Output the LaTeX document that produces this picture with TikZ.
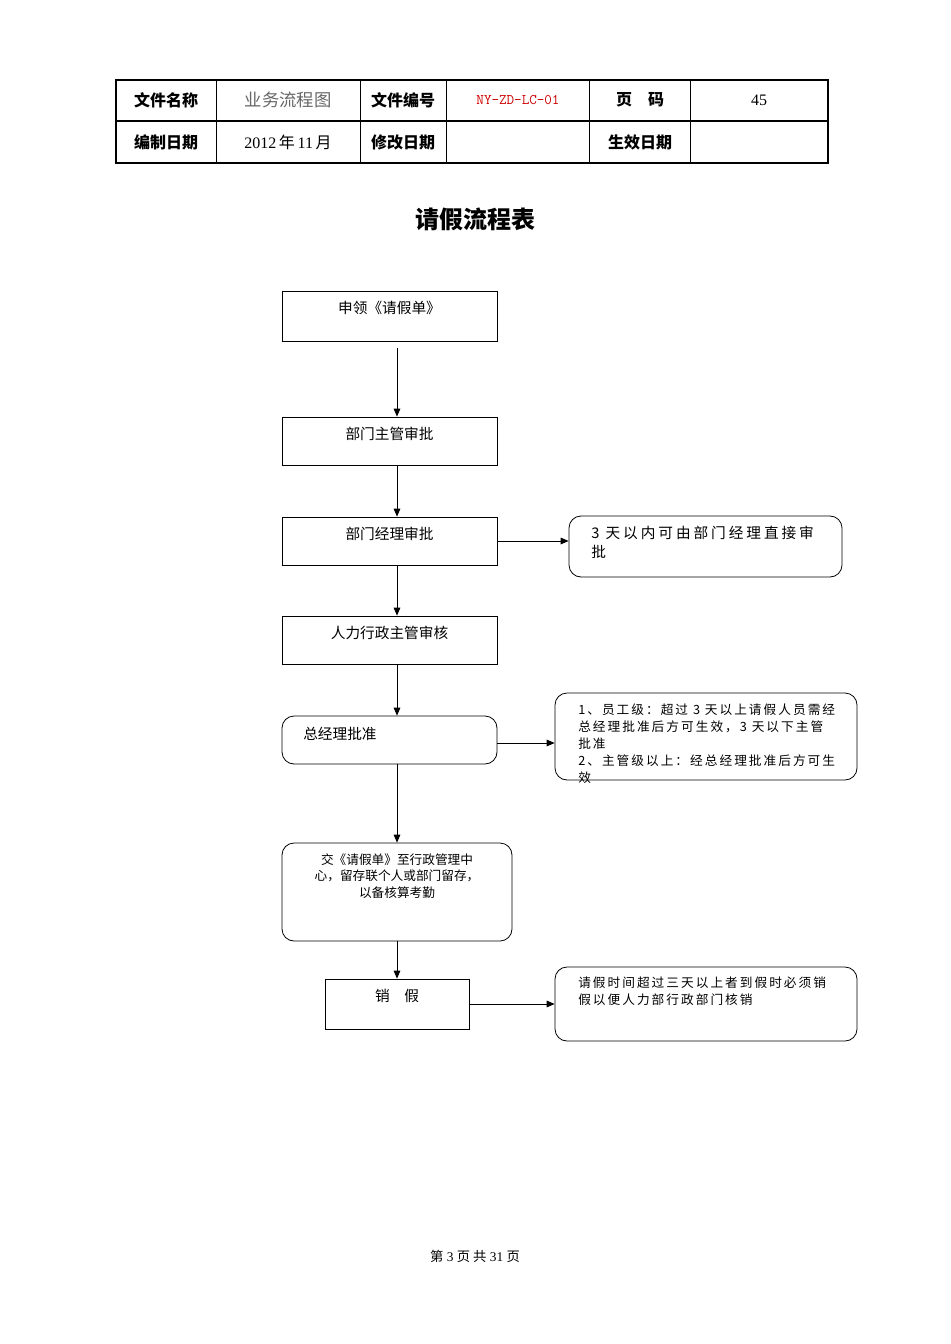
\documentclass[tikz,border=0pt]{standalone}
\usepackage{fontspec}
\setmainfont{Liberation Serif}
\newfontfamily\cjk{Noto Sans CJK SC}
\newfontfamily\cjkls[LetterSpace=16]{Noto Sans CJK SC}
\newfontfamily\cjklw[LetterSpace=20]{Noto Sans CJK SC}
\usetikzlibrary{arrows.meta,calc}
\begin{document}
\begin{tikzpicture}[x=0.75pt,y=-0.75pt,
  bx/.style={draw,semithick,inner sep=0pt},
  rbx/.style={draw,semithick,inner sep=0pt,rounded corners=9pt},
  txt/.style={font=\cjk\fontsize{11}{14}\selectfont,inner sep=0pt},
  ntxt/.style={font=\cjkls\fontsize{9.5}{12.7}\selectfont,inner sep=0pt,align=left,anchor=north west},
  th/.style={font=\cjk\bfseries\fontsize{12}{14}\selectfont,inner sep=0pt},
  arr/.style={-{Triangle[length=6pt,width=5pt]},semithick}]
\useasboundingbox (0,0) rectangle (950,1344);
% header table
\draw[line width=1.4pt] (116,80) rectangle (828,163);
\draw[thick] (116,121)--(828,121);
\foreach \x in {216,360,446,589,690} \draw (\x,80)--(\x,163);
\node[th] (h1) at (166,100) {文件名称};
\node[txt,text=gray!80!black,font=\cjk\fontsize{13}{14}\selectfont] (h2) at (288,100) {业务流程图};
\node[th] (h3) at (403,100) {文件编号};
\node[font=\ttfamily\fontsize{11}{12}\selectfont,text=red!80!black,inner sep=0pt] (h4) at (518,100) {NY-ZD-LC-01};
\node[th] (h5) at (640,100) {页\quad 码};
\node[font=\fontsize{12}{14}\selectfont,inner sep=0pt] (h6) at (759,100) {45};
\node[th] (h7) at (166,142) {编制日期};
\node[th] (h8) at (288,142) {\normalfont\fontsize{12}{14}\selectfont 2012\,\cjk 年\,\rmfamily 11\,\cjk 月};
\node[th] (h9) at (403,142) {修改日期};
\node[th] (h10) at (640,142) {生效日期};
\node[font=\cjk\bfseries\fontsize{18}{20}\selectfont] (title) at (475,219) {请假流程表};
% boxes
\node[bx,minimum width=161.25pt,minimum height=37.5pt] (b1) at (389.5,316) {};
\node[bx,minimum width=161.25pt,minimum height=36pt] (b2) at (389.5,441) {};
\node[bx,minimum width=161.25pt,minimum height=36pt] (b3) at (389.5,541) {};
\node[bx,minimum width=161.25pt,minimum height=36pt] (b4) at (389.5,640) {};
\node[rbx,minimum width=161.25pt,minimum height=36pt] (b5) at (389.5,740) {};
\node[rbx,minimum width=172.5pt,minimum height=73.5pt] (b6) at (397,892) {};
\node[bx,minimum width=108pt,minimum height=37.5pt] (b7) at (397,1004) {};
\node[rbx,minimum width=204.75pt,minimum height=45.75pt] (n1) at (705.5,546.5) {};
\node[rbx,minimum width=226.5pt,minimum height=65.25pt] (n2) at (706,736.5) {};
\node[rbx,minimum width=226.5pt,minimum height=55.5pt] (n3) at (706,1004) {};
% texts
\node[txt] (t1) at (389.5,308) {申领《请假单》};
\node[txt] (t2) at (389.5,434) {部门主管审批};
\node[txt] (t3) at (389.5,534) {部门经理审批};
\node[txt] (t4) at (389.5,633) {人力行政主管审核};
\node[txt,anchor=west] (t5) at (303,734) {总经理批准};
\node[txt,align=center,anchor=north,font=\cjk\fontsize{9.5}{12.5}\selectfont] (t6) at (397,853) {交《请假单》至行政管理中\\心，留存联个人或部门留存，\\以备核算考勤};
\node[txt] (t7) at (397,996) {销\quad 假};
\node[ntxt,font=\cjklw\fontsize{11}{14.2}\selectfont] (u1) at (591,526) {3 天以内可由部门经理直接审\\批};
\node[ntxt] (u2) at (578,704) {1、员工级：超过 3 天以上请假人员需经\\总经理批准后方可生效，3 天以下主管\\批准\\2、主管级以上：经总经理批准后方可生\\效};
\node[ntxt] (u3) at (578,977) {请假时间超过三天以上者到假时必须销\\假以便人力部行政部门核销};
% arrows
\coordinate (sp) at (397,0);
\draw[arr] ($(b1.south -| sp)+(0,7)$) -- (b2.north -| sp);
\draw[arr] (b2.south -| sp) -- (b3.north -| sp);
\draw[arr] (b3.south -| sp) -- (b4.north -| sp);
\draw[arr] (b4.south -| sp) -- (b5.north -| sp);
\draw[arr] (b5.south -| sp) -- (b6.north);
\draw[arr] (b6.south) -- (b7.north);
\draw[arr] (b3.east) -- (b3.east -| n1.west);
\draw[arr] ($(b5.east)+(0,3)$) -- ($(b5.east -| n2.west)+(0,3)$);
\draw[arr] (b7.east) -- (b7.east -| n3.west);
\node[font=\fontsize{10}{12}\selectfont,inner sep=0pt] (foot) at (475,1256) {{\cjk 第} 3 {\cjk 页 共} 31 {\cjk 页}};
\end{tikzpicture}
\end{document}
